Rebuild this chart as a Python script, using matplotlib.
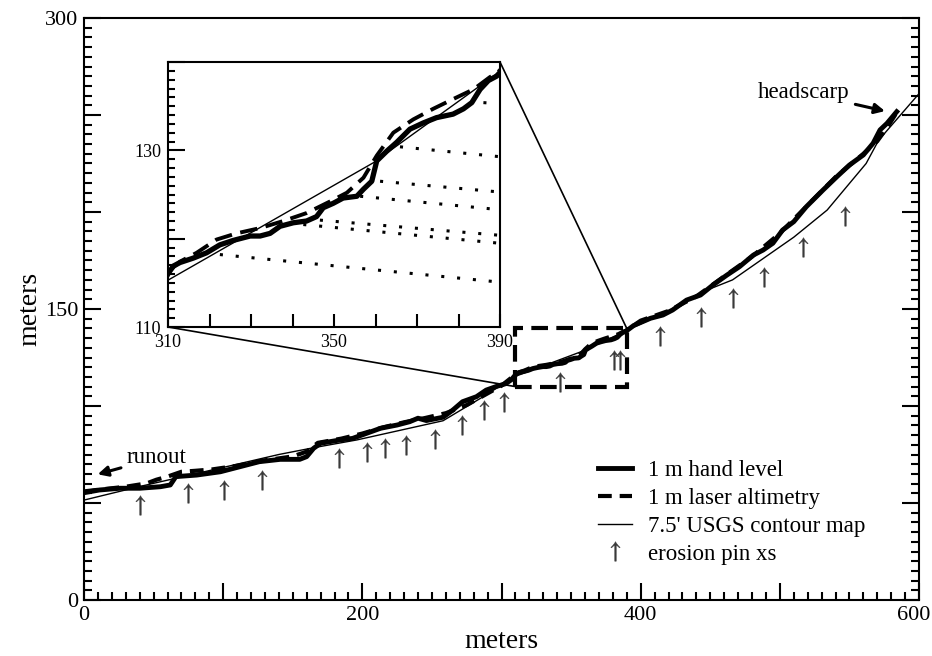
import numpy as np
import matplotlib.pyplot as plt
from matplotlib.ticker import MultipleLocator, FuncFormatter
from matplotlib.patches import Rectangle, ConnectionPatch
from matplotlib.transforms import ScaledTranslation

plt.rcParams['font.family'] = ['Liberation Serif', 'DejaVu Serif']
plt.rcParams['mathtext.fontset'] = 'stix'

# perfil levantado com nivel de mao (1 m)
hand_x = [0, 11, 26, 40, 55, 62, 66, 81, 98, 112, 126, 141, 155, 160, 165, 170, 184, 193,
          203, 213, 225, 234, 240, 246, 258, 265, 272, 282, 289, 296, 303, 307,
          310.1, 311.3, 312.9, 316.1, 319.3, 322.5, 325.7, 329.8, 332.2, 334.6, 337.0,
          340.2, 343.4, 345.8, 347.4, 349.8, 352.2, 355.5, 357.1, 359.1, 360.3, 362.7,
          365.1, 368.3, 371.5, 374.7, 378.7, 381.2, 383.2, 385.2, 387.2, 389.2,
          395, 407, 416, 423, 433, 443, 452, 462, 471, 481, 488, 495, 502, 510, 519,
          531, 541, 550, 560, 567, 572, 577, 584]
hand_y = [55.3, 56.7, 57.6, 57.6, 58.4, 59.3, 63.6, 64.4, 66.1, 68.7, 71.3, 72.5, 72.5, 73.9,
          78.2, 80.8, 82.5, 83.3, 85.9, 88.5, 90.2, 91.9, 93.7, 92.5, 94.2, 97.9, 102.2,
          104.8, 108.2, 110.0, 111.5, 113.5,
          116.1, 116.9, 117.3, 117.8, 118.4, 119.3, 119.8, 120.3, 120.3, 120.6, 121.4,
          121.8, 122.0, 122.5, 123.5, 124.0, 124.6, 124.8, 125.6, 126.5, 128.8, 129.9,
          130.9, 132.4, 133.1, 133.7, 134.1, 134.7, 135.4, 136.9, 137.9, 138.4,
          141.5, 145.2, 146.9, 149.5, 154.6, 157.2, 162.4, 167.5, 171.8, 177.8, 180.4,
          183.9, 190.7, 195.0, 202.7, 211.3, 218.2, 224.2, 229.4, 235.4, 242.3, 245.7, 251.7]

# altimetria laser (1 m)
laser_x = [0, 15, 30, 45, 52, 60, 70, 80, 92, 110, 130, 150, 160, 168, 185, 200, 215, 230,
           245, 260, 275, 290, 300, 310.1, 312.9, 316.9, 321.7, 326.5, 332.2, 337.8, 343.4,
           349.0, 353.1, 357.1, 360.3, 364.3, 369.1, 373.9, 378.7, 383.6, 387.6, 389.2,
           400, 420, 440, 460, 480, 500, 520, 540, 560, 570, 578, 585]
laser_y = [56.0, 57.2, 58.4, 60.1, 62.0, 63.6, 66.1, 66.6, 67.3, 69.2, 72.0, 74.0, 76.5, 81.0,
           83.2, 85.8, 89.0, 91.6, 93.8, 96.3, 100.5, 106.5, 110.5, 116.3, 117.4, 118.4,
           119.9, 120.6, 121.2, 122.0, 122.9, 124.2, 125.2, 126.9, 129.4, 132.0, 133.5,
           134.7, 135.8, 136.9, 138.3, 138.7,
           144.0, 149.0, 156.5, 166.8, 177.0, 189.0, 203.5, 218.0, 230.0, 236.5, 244.5, 252.5]

# mapa topografico USGS 7.5'
usgs_x = [0, 40, 98, 140, 165, 196, 258, 285, 310, 359.5, 389, 420, 445, 466, 486, 510,
          534, 562, 571, 600]
usgs_y = [51.5, 58.5, 68, 75, 78.5, 82.5, 92.4, 104, 115.3, 128.6, 138.6, 149, 159, 165,
          175, 187, 201, 225, 237, 261]

# secoes dos pinos de erosao
pin_x = [40.2, 74.7, 100.6, 127.9, 183.4, 203.1, 216.3, 231.4, 252.2, 271.8, 287.6, 301.8,
         342.0, 380.8, 385.1, 413.9, 443.3, 466.1, 488.6, 516.4, 546.8]
pin_y = [49.0, 55.2, 56.7, 61.9, 73.2, 76.3, 78.4, 79.9, 83.0, 90.2, 97.9, 102.1,
         112.4, 123.7, 123.7, 136.1, 145.9, 155.9, 166.6, 182.1, 197.9]

# linhas pontilhadas no detalhe
xs_x0 = [322.5, 342.6, 346.6, 356.3, 361.1, 365.9, 386.0]
xs_y0 = [118.2, 121.6, 122.1, 124.8, 126.5, 130.4, 135.4]
xs_x1 = [389.5, 389.5, 389.5, 389.5, 389.5, 389.5, 389.5]
xs_y1 = [115.1, 119.5, 120.4, 123.3, 125.3, 129.3, 135.3]

zoom_x = (310, 390)
zoom_y = (110, 140)

fig = plt.figure(figsize=(9.32, 6.56), dpi=100)
ax = fig.add_axes([84/932, 1 - 600/656, 835/932, 582/656])

l_usgs, = ax.plot(usgs_x, usgs_y, color='k', lw=1.0, label="7.5' USGS contour map")
l_hand, = ax.plot(hand_x, hand_y, color='k', lw=3.5, solid_joinstyle='round',
                  label='1 m hand level')
l_laser, = ax.plot(laser_x, laser_y, color='k', lw=3, ls=(0, (3.3, 1.9)),
                   label='1 m laser altimetry')
l_pin, = ax.plot(pin_x, pin_y, ls='none', marker=r'$\uparrow$', ms=14, color='#3a3a3a',
                 mew=0.3, label='erosion pin xs')

ax.add_patch(Rectangle((zoom_x[0], zoom_y[0]), zoom_x[1] - zoom_x[0], zoom_y[1] - zoom_y[0],
                       fill=False, ec='k', lw=3, ls=(0, (4, 2)), zorder=3))

ax.annotate('runout', xy=(7.9, 64.4), xytext=(52, 73.2), ha='center', va='center',
            fontsize=16.5,
            arrowprops=dict(arrowstyle='-|>', lw=2.2, color='k', mutation_scale=15))
ax.annotate('headscarp', xy=(577.5, 251.7), xytext=(517.4, 261.5), ha='center', va='center',
            fontsize=16.5,
            arrowprops=dict(arrowstyle='-|>', lw=2.2, color='k', mutation_scale=15))

ax.set_xlim(0, 600)
ax.set_ylim(0, 300)
ax.xaxis.set_major_locator(MultipleLocator(100))
ax.xaxis.set_minor_locator(MultipleLocator(10))
ax.yaxis.set_major_locator(MultipleLocator(50))
ax.yaxis.set_minor_locator(MultipleLocator(5))
ax.xaxis.set_major_formatter(FuncFormatter(lambda v, p: f'{v:.0f}' if v % 200 == 0 else ''))
ax.yaxis.set_major_formatter(FuncFormatter(lambda v, p: f'{v:.0f}' if v % 150 == 0 else ''))
ax.tick_params(which='both', direction='in', top=False, right=True, width=1.5,
               labelsize=16, pad=4)
ax.tick_params(which='major', length=12)
ax.tick_params(which='minor', length=6)
for s in ax.spines.values():
    s.set_linewidth(1.5)
ax.set_xlabel('meters', fontsize=20, labelpad=3)
ax.set_ylabel('meters', fontsize=20, labelpad=2)

ax.legend(handles=[l_hand, l_laser, l_usgs, l_pin], loc='center left',
          bbox_to_anchor=(0.6156, 0.151), frameon=False, fontsize=16.5,
          handlelength=1.5, handletextpad=0.7, labelspacing=0.3, borderpad=0,
          borderaxespad=0, numpoints=1)

# detalhe ampliado
ins = fig.add_axes([168/932, 1 - 327/656, 332/932, 265/656])
ins.plot(usgs_x, usgs_y, color='k', lw=1.0)
ins.plot(hand_x, hand_y, color='k', lw=3.8, solid_joinstyle='round')
ins.plot(laser_x, laser_y, color='k', lw=2.8, ls=(0, (4.5, 2.2)))
for i in range(len(xs_x0)):
    ins.plot([xs_x0[i], xs_x1[i]], [xs_y0[i], xs_y1[i]], color='k', lw=2.2,
             ls=(0, (1, 4.2)))
ins.set_xlim(*zoom_x)
ins.set_ylim(*zoom_y)
ins.xaxis.set_major_locator(MultipleLocator(10))
ins.yaxis.set_major_locator(MultipleLocator(10))
ins.yaxis.set_minor_locator(MultipleLocator(1))
ins.xaxis.set_major_formatter(FuncFormatter(lambda v, p: f'{v:.0f}' if (v - 310) % 40 == 0 else ''))
ins.yaxis.set_major_formatter(FuncFormatter(lambda v, p: f'{v:.0f}' if (v - 110) % 20 == 0 else ''))
ins.tick_params(which='both', direction='in', width=1.5, labelsize=13, pad=5)
ins.tick_params(axis='x', length=9.5)
ins.tick_params(axis='y', which='major', length=12.5)
ins.tick_params(axis='y', which='minor', length=5)
for s in ins.spines.values():
    s.set_linewidth(1.5)

for cx, cy in [(zoom_x[0], zoom_y[0]), (zoom_x[1], zoom_y[1])]:
    con = ConnectionPatch(xyA=(cx, cy), coordsA=ins.transData, xyB=(cx, cy),
                          coordsB=ax.transData, color='k', lw=1.2)
    fig.add_artist(con)

# empurrar o rotulo 600 um pouco para dentro da figura
fig.canvas.draw()
for lab in ax.get_xticklabels():
    if lab.get_text() == '600':
        lab.set_transform(lab.get_transform() + ScaledTranslation(-5/100, 0, fig.dpi_scale_trans))

fig.savefig('out.png', dpi=100)
